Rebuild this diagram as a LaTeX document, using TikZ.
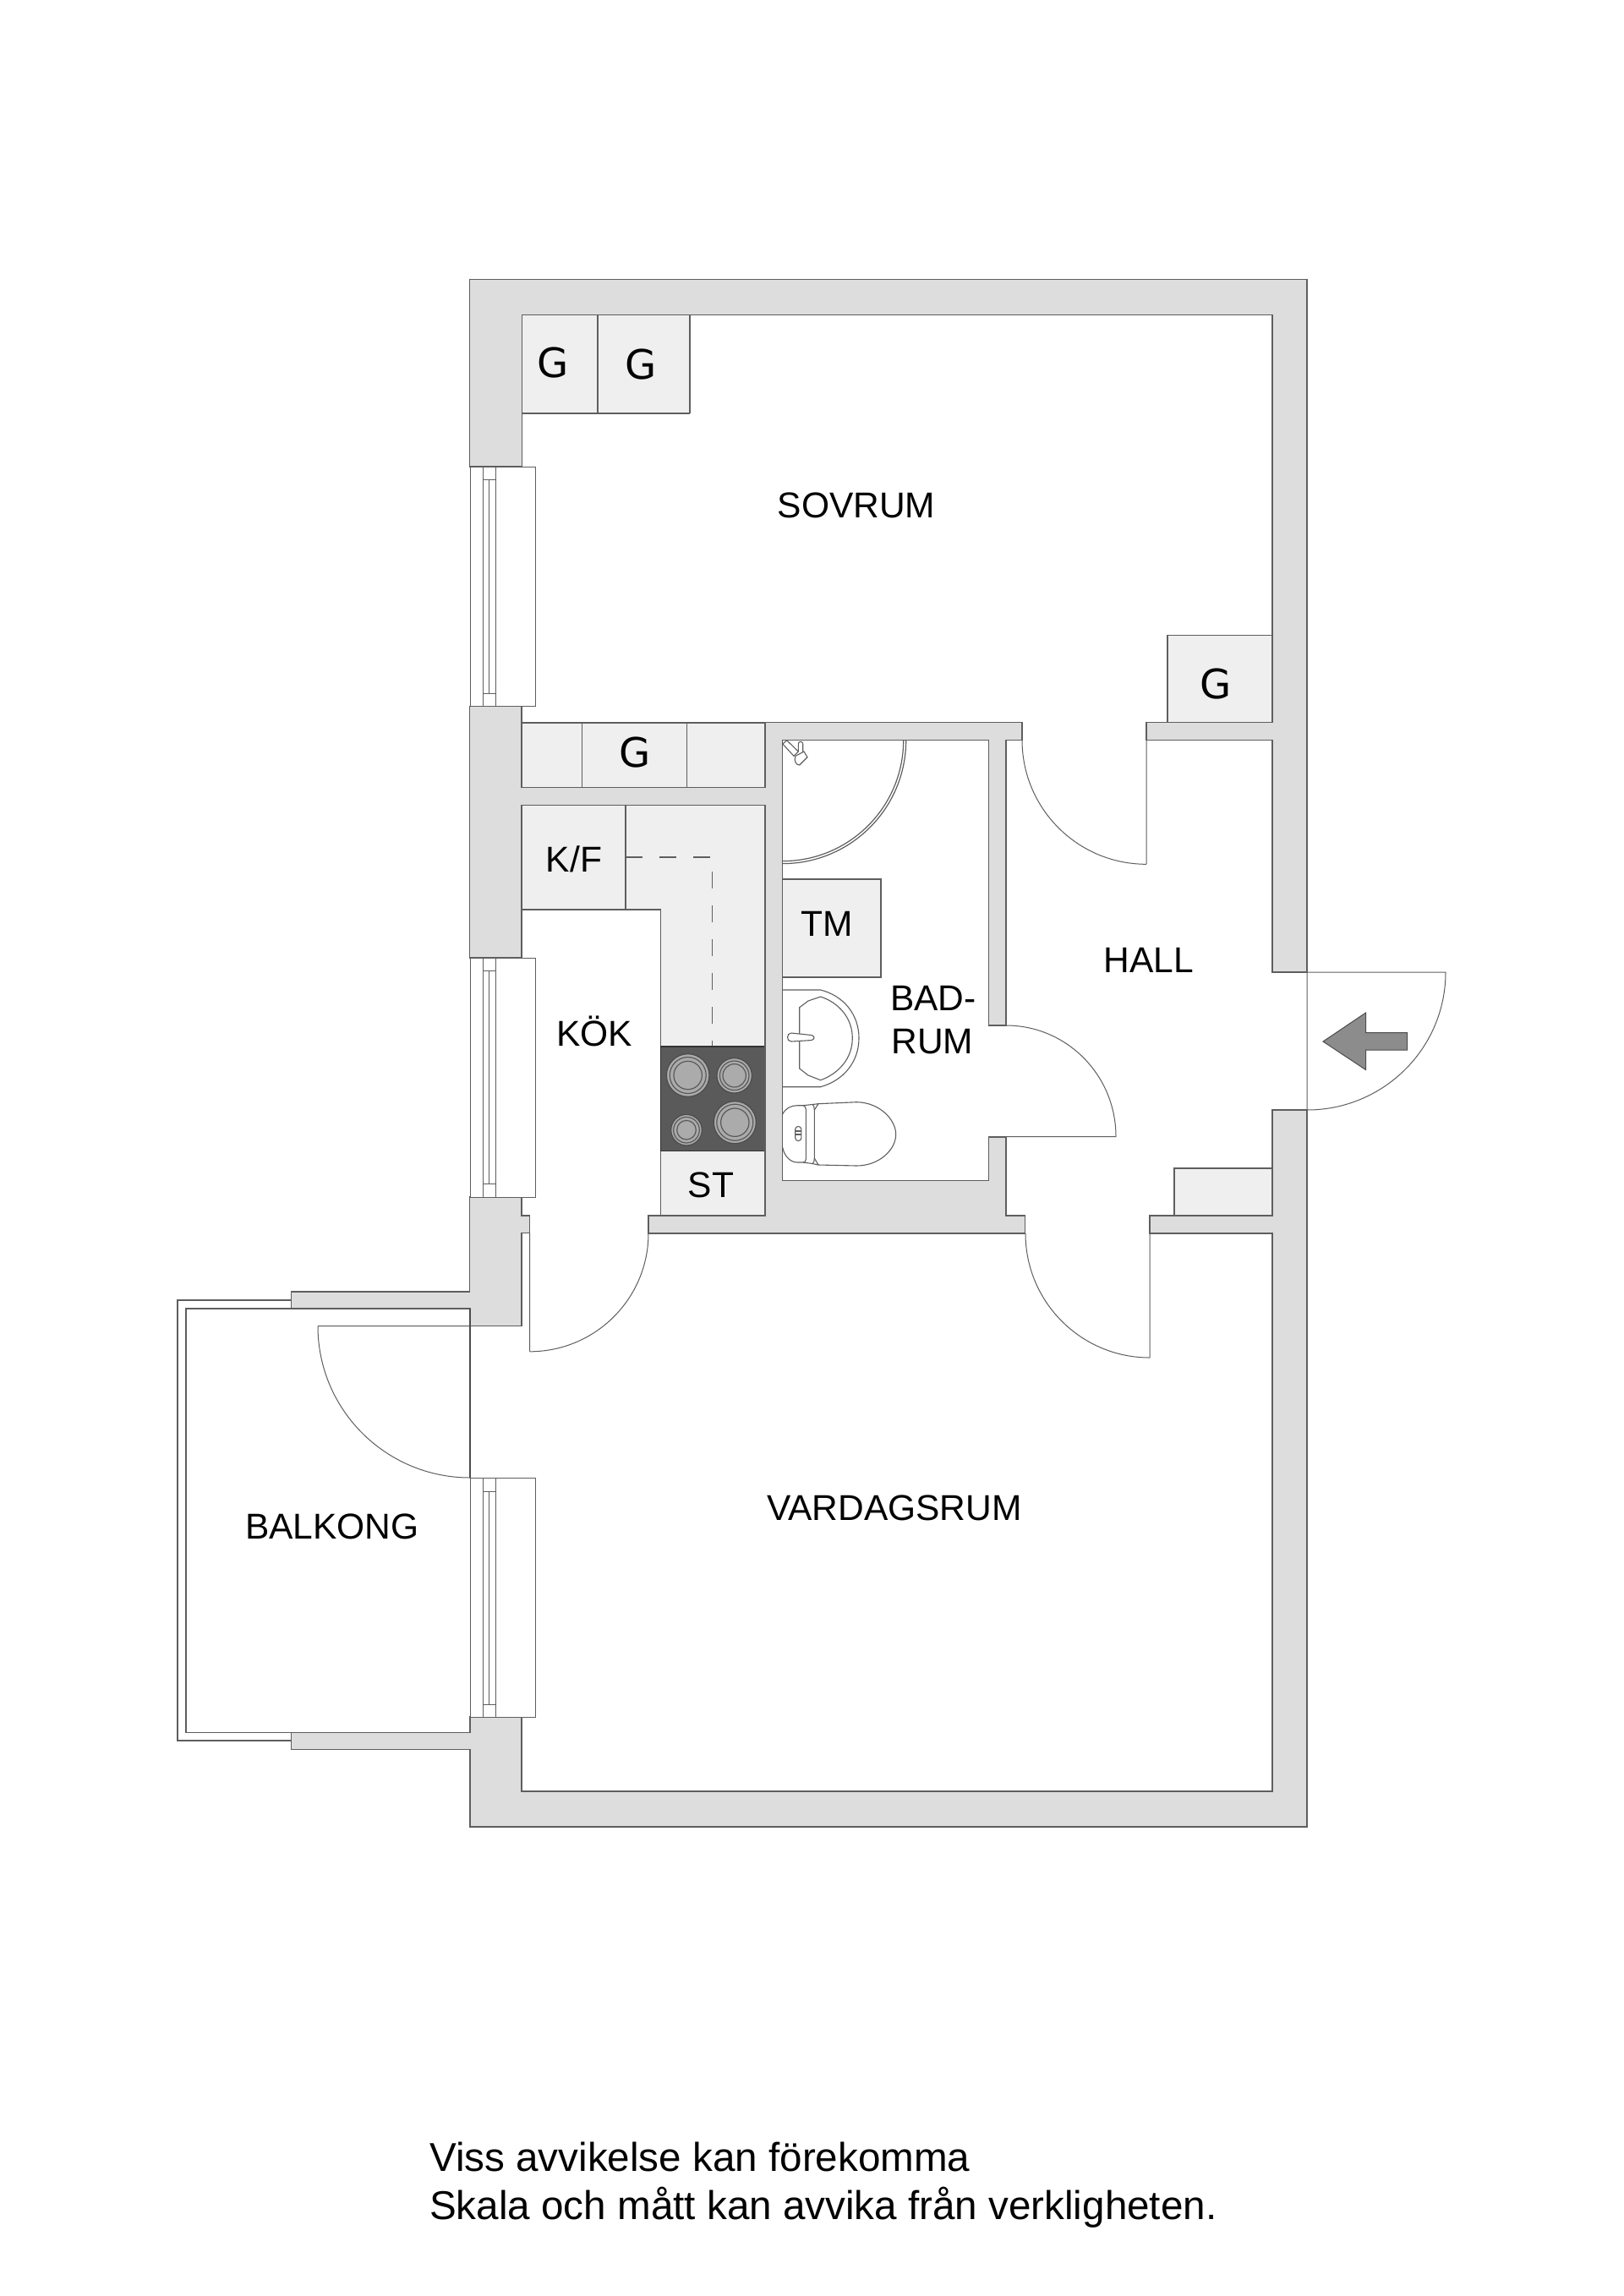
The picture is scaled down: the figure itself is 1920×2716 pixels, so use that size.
\documentclass[tikz,border=0pt]{standalone}
\usepackage{fontspec}
\setmainfont{Liberation Sans}
\newfontfamily\gfont{DejaVu Sans}
\definecolor{wallc}{HTML}{DDDDDD}
\definecolor{fixc}{HTML}{EFEFEF}
\definecolor{linec}{HTML}{5E5E5E}
\definecolor{stovec}{HTML}{5A5A5A}
\definecolor{burnc}{HTML}{ABABAB}
\definecolor{arrowc}{HTML}{8C8C8C}
\tikzset{
  wallshape/.style={fill=wallc,draw=linec,line width=1.2pt,line join=miter},
  fixture/.style={fill=fixc,draw=linec,line width=1.2pt},
  thinline/.style={draw=linec,line width=1.1pt},
  swing/.style={draw=linec,line width=1pt},
  burner/.style={draw=black!70,line width=1.2pt,fill=burnc},
  ring/.style={draw=black!65,line width=1.2pt},
  roomlabel/.style={anchor=base,inner sep=0pt,text=black,font=\fontsize{42.5}{42.5}\selectfont},
  glabel/.style={anchor=base,inner sep=0pt,text=black,font=\gfont\fontsize{48}{48}\selectfont},
  noteline/.style={anchor=base west,inner sep=0pt,text=black,font=\fontsize{47.6}{47.6}\selectfont},
  winline/.style={draw=linec,line width=1pt}
}
\newcommand{\planwindow}[4]{%
  % #1 top, #2 bottom, #3 sash top, #4 sash bottom
  \fill[white] (556,#1) rectangle (633,#2);
  \draw[winline] (556,#1) rectangle (633,#2);
  \draw[winline] (571,#1) -- (571,#2) (586,#1) -- (586,#2)
     (571,#3) -- (586,#3) (571,#4) -- (586,#4) (578.4,#3) -- (578.4,#4);
}
\begin{document}
\begin{tikzpicture}[x=1pt,y=-1pt]
\useasboundingbox (0,0) rectangle (1920,2716);
\fill[white] (0,0) rectangle (1920,2716);

% fixtures
\draw[fixture] (617,372.5) rectangle (706.7,489);
\draw[fixture] (706.7,372.5) rectangle (815.7,489);
\draw[draw=linec,line width=2.2pt] (706.7,372.5) -- (706.7,489) (815.7,372.5) -- (815.7,489);
\draw[fixture] (1381,751.4) rectangle (1505,854.4);
\draw[fixture] (1389,1382) rectangle (1505,1438);
\draw[fixture] (617,855) rectangle (905,931.7);
\draw[thinline] (688.7,855) -- (688.7,931.7) (812.8,855) -- (812.8,931.7);
\draw[fixture] (617,952.7) -- (905,952.7) -- (905,1438) -- (781.5,1438) -- (781.5,1076) -- (617,1076) -- cycle;
\draw[thinline] (740,952.7) -- (740,1076);
\draw[thinline,dash pattern=on 20pt off 20pt] (740,1014) -- (842.7,1014) -- (842.7,1238);
\fill[stovec] (781.7,1238) rectangle (904.5,1361.5);
\draw[draw=black!80,line width=1.2pt] (781.7,1238) rectangle (904.5,1361.5);
\draw[burner] (813.7,1272) circle[radius=25.3pt];
\draw[ring] (813.7,1272) circle[radius=21.5pt];
\draw[ring] (813.7,1272) circle[radius=16.7pt];
\draw[burner] (868.7,1272.3) circle[radius=20.7pt];
\draw[ring] (868.7,1272.3) circle[radius=17.3pt];
\draw[ring] (868.7,1272.3) circle[radius=13.7pt];
\draw[burner] (812,1336.7) circle[radius=18.3pt];
\draw[ring] (812,1336.7) circle[radius=15.3pt];
\draw[ring] (812,1336.7) circle[radius=11.3pt];
\draw[burner] (869.3,1327.7) circle[radius=25pt];
\draw[ring] (869.3,1327.7) circle[radius=21.5pt];
\draw[ring] (869.3,1327.7) circle[radius=16.7pt];
\draw[fixture] (925.7,1040) rectangle (1042,1156);

% balcony railing
\draw[thinline] (344.5,1538) -- (210,1538) -- (210,2059) -- (344.5,2059);
\draw[thinline] (344.5,1548) -- (220,1548) -- (220,2049.5) -- (344.5,2049.5);

% walls
\draw[wallshape] (555.5,552) -- (555.5,330.7) -- (1546,330.7) -- (1546,1150) -- (1505,1150)
  -- (1505,875.3) -- (1356,875.3) -- (1356,854.4) -- (1505,854.4) -- (1505,372.5)
  -- (617.3,372.5) -- (617.3,552) -- cycle;
\draw[wallshape] (555.5,835.4) -- (617,835.4) -- (617,931.7) -- (905,931.7) -- (905,854.6)
  -- (1209,854.6) -- (1209,875.6) -- (1190,875.6) -- (1190,1213) -- (1169.5,1213)
  -- (1169.5,875.6) -- (925.7,875.6) -- (925.7,1396.7) -- (1169.5,1396.7) -- (1169.5,1345)
  -- (1190,1345) -- (1190,1438) -- (1212.7,1438) -- (1212.7,1459) -- (767,1459) -- (767,1438)
  -- (905,1438) -- (905,952.7) -- (617,952.7) -- (617,1133) -- (555.5,1133) -- cycle;
\draw[wallshape] (555.5,1416) -- (617,1416) -- (617,1438) -- (626.6,1438) -- (626.6,1458.5)
  -- (617,1458.5) -- (617,1568.7) -- (556,1568.7) -- (556,1548) -- (344.5,1548) -- (344.5,1528)
  -- (555.5,1528) -- cycle;
\draw[wallshape] (556,2031) -- (617,2031) -- (617,2119) -- (1505,2119) -- (1505,1459)
  -- (1360,1459) -- (1360,1438) -- (1505,1438) -- (1505,1313) -- (1546,1313) -- (1546,2161)
  -- (556,2161) -- (556,2069.6) -- (344.5,2069.6) -- (344.5,2049.5) -- (556,2049.5) -- cycle;

% windows
\planwindow{552}{835.4}{567.5}{820}
\planwindow{1133}{1416}{1148.4}{1400.7}
\planwindow{1748}{2031}{1764}{2016}

% doors
\draw[swing] (1356,875.3) -- (1356,1022) (1209,875.3) arc[start angle=180,end angle=270,radius=147pt];
\draw[swing] (1190,1344.5) -- (1320,1344.5) (1190,1213) arc[start angle=90,end angle=0,x radius=130pt,y radius=131.5pt];
\draw[swing] (1546,1150) -- (1710,1150) (1546,1150) -- (1546,1313) (1710,1150) arc[start angle=0,end angle=-90,x radius=164pt,y radius=163pt];
\draw[swing] (1360,1459) -- (1360,1606) (1213,1459) arc[start angle=180,end angle=270,radius=147pt];
\draw[swing] (626.6,1458.5) -- (626.6,1598.7) (767,1458.8) arc[start angle=0,end angle=-90,x radius=140.4pt,y radius=140pt];
\draw[swing] (376,1568.7) -- (556,1568.7) (376,1568.7) arc[start angle=180,end angle=270,x radius=180pt,y radius=179.3pt];
\draw[thinline,line width=1.2pt,draw=black!70] (556,1548) -- (556,1748);

% entrance arrow
\draw[fill=arrowc,draw=black!70,line width=1pt] (1565,1232) -- (1615.5,1198) -- (1615.5,1221.6)
  -- (1664.5,1221.6) -- (1664.5,1242) -- (1615.5,1242) -- (1615.5,1265.5) -- cycle;

% shower
\draw[swing,line width=1.2pt] (1071.7,875.6) arc[start angle=0,end angle=-90,radius=146pt];
\draw[swing,line width=1.2pt] (1068.7,875.6) arc[start angle=0,end angle=-90,radius=143pt];
\draw[swing,line width=1.1pt,fill=white] (925.8,880) -- (930.7,875.8) -- (944.3,889) -- (939,894.3) -- cycle;
\draw[swing,line width=1.1pt,fill=white] (944.3,889) -- (944.3,880) arc[start angle=180,end angle=0,radius=2.7pt] -- (949.7,890);
\draw[swing,line width=1.1pt,fill=white] (941,894.3) -- (951,889) -- (955,895.7) -- (945.7,905) .. controls (941,905) and (939,899) .. (941,894.3) -- cycle;

% basin
\draw[thinline] (925.7,1171) -- (970.7,1171) .. controls (998,1178) and (1016,1200) .. (1016,1228)
  .. controls (1016,1256) and (998,1278) .. (970.7,1285.7) -- (925.7,1285.7);
\draw[thinline] (945.7,1191.7) -- (956,1184) -- (970.7,1179) .. controls (992,1186) and (1008.3,1204) .. (1008.3,1228)
  .. controls (1008.3,1252) and (992,1270) .. (970.7,1277.7) -- (956,1272) -- (945.7,1264) -- cycle;
\draw[thinline,fill=white] (936,1222) -- (960,1224.5) .. controls (964,1226) and (964,1229) .. (960,1230.5) -- (936,1232)
  .. controls (930,1232) and (930,1222) .. (936,1222) -- cycle;

% toilet
\draw[thinline] (925.7,1318) .. controls (929,1311) and (936,1307.7) .. (943,1307.7) -- (950,1307.7)
  .. controls (952,1308) and (953.3,1310) .. (953.3,1312) -- (953.3,1371) .. controls (953.3,1374) and (952,1375) .. (950,1375)
  -- (943,1375) .. controls (934,1375) and (927,1366) .. (925.7,1357);
\draw[thinline] (950,1307.7) -- (961,1306.5) .. controls (962.5,1307) and (963.5,1310) .. (963.3,1313) -- (963.3,1370)
  .. controls (963.5,1373) and (962.5,1376) .. (961,1376.5) -- (950,1375);
\draw[thinline] (961,1306.5) -- (968,1305.7) (963.3,1313) -- (968,1305.7) (963.3,1370) -- (968,1378) (961,1376.5) -- (968,1378);
\draw[thinline] (968,1305.7) -- (1013.3,1303.7) .. controls (1040,1304) and (1059.7,1324) .. (1059.7,1342)
  .. controls (1059.7,1360) and (1040,1379) .. (1013.3,1379) -- (968,1378);
\draw[thinline] (940.7,1336) arc[start angle=180,end angle=0,radius=3.6pt] -- (947.9,1346) arc[start angle=0,end angle=-180,radius=3.6pt] -- cycle;
\draw[thinline] (940.7,1338) -- (947.9,1338) (940.7,1342) -- (947.9,1342);

% labels
\node[roomlabel] (sovrum) at (1013,612) {SOVRUM};
\node[roomlabel] (hall) at (1359,1150) {HALL};
\node[roomlabel] (kok) at (703,1237) {KÖK};
\node[roomlabel] (kf) at (679,1031) {K/F};
\node[roomlabel] (tm) at (978,1107) {TM};
\node[roomlabel] (bad) at (1104,1195) {BAD-};
\node[roomlabel] (rum) at (1103,1246) {RUM};
\node[roomlabel] (st) at (841,1416) {ST};
\node[roomlabel] (vardagsrum) at (1058,1798) {VARDAGSRUM};
\node[roomlabel] (balkong) at (393,1820) {BALKONG};
\node[glabel] (ga) at (654,446) {G};
\node[glabel] (gb) at (758.5,448) {G};
\node[glabel] (gc) at (751,907) {G};
\node[glabel] (gd) at (1438,826) {G};
\node[noteline] (notea) at (508,2568) {Viss avvikelse kan förekomma};
\node[noteline] (noteb) at (508,2625) {Skala och mått kan avvika från verkligheten.};
\end{tikzpicture}
\end{document}
